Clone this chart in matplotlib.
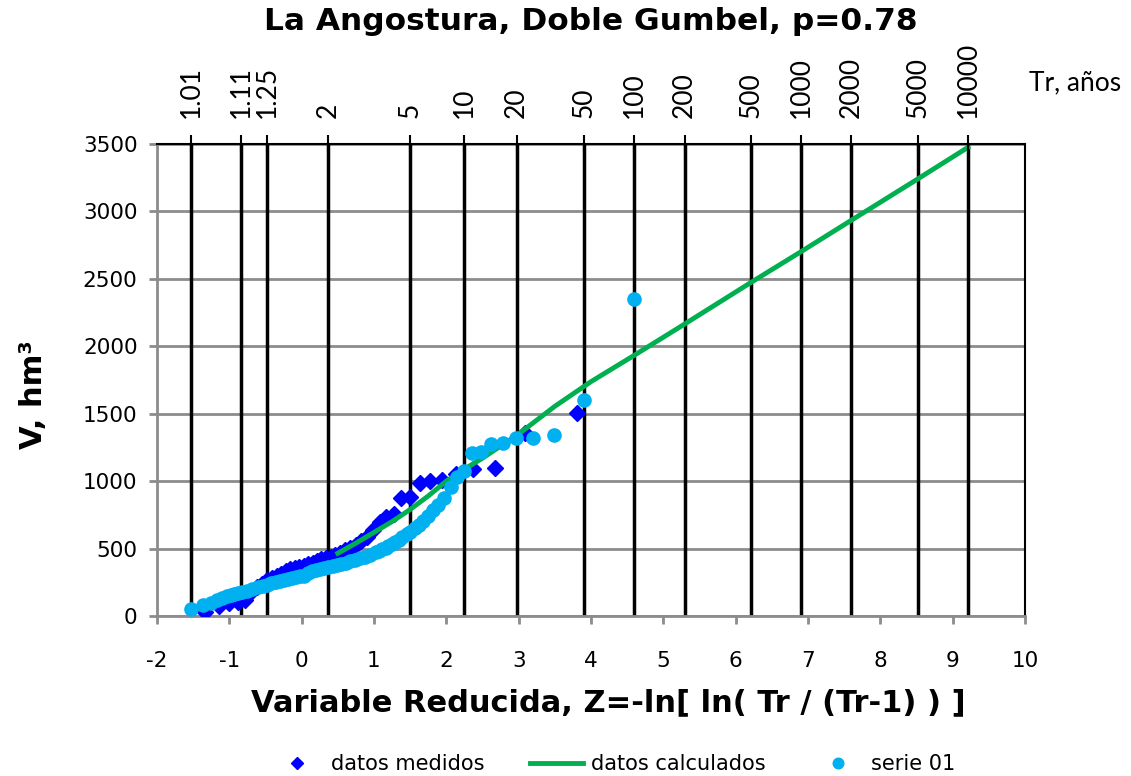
import numpy as np
import matplotlib
matplotlib.use("Agg")
import matplotlib.pyplot as plt

plt.rcParams["font.family"] = "DejaVu Sans"
plt.rcParams["axes.unicode_minus"] = False

# datos medidos (Z, V)
z_med = [3.80, 3.09, 2.67, 2.37, 2.14, 1.94, 1.78, 1.63, 1.50, 1.38, 1.27, 1.17,
         1.08, 0.99, 0.90, 0.82, 0.75, 0.67, 0.60, 0.53, 0.46, 0.40, 0.34, 0.27,
         0.21, 0.15, 0.09, 0.03, -0.03, -0.09, -0.16, -0.22, -0.28, -0.34, -0.41,
         -0.48, -0.55, -0.62, -0.70, -0.79, -0.88, -1.00, -1.14, -1.34]
v_med = [1505, 1357, 1097, 1090, 1050, 1008, 1000, 986, 882, 875, 756, 734,
         697, 635, 585, 555, 530, 505, 490, 470, 452, 440, 430, 420,
         405, 395, 385, 368, 360, 355, 345, 330, 315, 300, 285,
         265, 240, 215, 175, 120, 105, 95, 75, 30]

# datos calculados (curva Doble Gumbel)
z_calc = [0.50, 0.75, 1.0, 1.25, 1.5, 1.75, 2.0, 2.25, 2.5, 3.0, 3.5, 4.0,
          4.60, 5.30, 6.21, 6.91, 7.60, 8.52, 9.21]
v_calc = [465, 540, 620, 700, 790, 890, 1000, 1090, 1170, 1350, 1555, 1738,
          1934, 2167, 2473, 2704, 2935, 3242, 3475]

# serie 01 (Z, V)
z_s01 = [4.60, 3.90, 3.49, 3.20, 2.97, 2.78, 2.62, 2.48, 2.36, 2.25, 2.15, 2.06,
         1.97, 1.89, 1.82, 1.75, 1.68, 1.62, 1.56, 1.50, 1.45, 1.39, 1.34, 1.29,
         1.25, 1.20, 1.16, 1.11, 1.07, 1.03, 0.95, 0.88, 0.81, 0.74, 0.67, 0.61,
         0.55, 0.49, 0.43, 0.37, 0.31, 0.25, 0.20, 0.14, 0.09, 0.03, -0.02, -0.08,
         -0.13, -0.19, -0.24, -0.30, -0.36, -0.42, -0.48, -0.54, -0.61, -0.68,
         -0.75, -0.83, -0.88, -0.93, -0.98, -1.03, -1.10, -1.17, -1.26, -1.36, -1.53]
v_s01 = [2350, 1605, 1342, 1320, 1320, 1283, 1275, 1216, 1209, 1078, 1030, 956,
         875, 823, 786, 741, 704, 675, 652, 625, 605, 585, 565, 550,
         535, 520, 505, 495, 485, 475, 455, 440, 428, 415, 405, 395,
         385, 378, 370, 362, 355, 348, 340, 330, 318, 300, 295, 290,
         282, 276, 268, 260, 252, 242, 230, 222, 212, 198,
         185, 175, 168, 160, 152, 145, 130, 115, 100, 80, 50]

tr_vals = [1.01, 1.11, 1.25, 2, 5, 10, 20, 50, 100, 200, 500, 1000, 2000, 5000, 10000]
tr_labels = ["1.01", "1.11", "1.25", "2", "5", "10", "20", "50", "100", "200",
             "500", "1000", "2000", "5000", "10000"]

tr = np.array(tr_vals)
z_tr = -np.log(np.log(tr / (tr - 1)))

fig = plt.figure(figsize=(11.31, 7.76), dpi=100)
ax = fig.add_axes([0.1388, 0.2062, 0.9063 - 0.1388, 0.8144 - 0.2062])

ax.set_xlim(-2, 10)
ax.set_ylim(0, 3500)
ax.set_xticks(range(-2, 11))
ax.set_yticks(range(0, 3501, 500))
ax.yaxis.grid(True, color="#8c8c8c", linewidth=2, zorder=0)
ax.set_axisbelow(True)

ax.vlines(z_tr, 0, 3500, color="black", linewidth=2.5, zorder=1)

ax.plot(z_med, v_med, linestyle="none", marker="D", color="#0000ff",
        markersize=8, label="datos medidos", zorder=3)
ax.plot(z_calc, v_calc, color="#00b050", linewidth=3.5, label="datos calculados", zorder=4)
ax.plot(z_s01, v_s01, linestyle="none", marker="o", color="#00b0f0",
        markersize=9.5, label="serie 01", zorder=5)

for s in ["left", "bottom"]:
    ax.spines[s].set_color("#8c8c8c")
    ax.spines[s].set_linewidth(2)
ax.spines["right"].set_color("black")
ax.spines["right"].set_linewidth(1.5)
ax.spines["top"].set_visible(False)
ax.tick_params(axis="both", colors="#8c8c8c", width=2, length=6, direction="out",
               labelsize=15.5, labelcolor="black")
ax.tick_params(axis="x", pad=19)
ax.tick_params(axis="y", pad=8)

ax.set_ylabel("V, hm³", fontsize=22, fontweight="bold")
ax.yaxis.set_label_coords(-0.126, 0.468)
ax.set_xlabel("Variable Reducida, Z=-ln[ ln( Tr / (Tr-1) ) ]", fontsize=22,
              fontweight="bold")
ax.xaxis.set_label_coords(0.52, -0.153)

# eje superior con los periodos de retorno
ax2 = ax.twiny()
ax2.set_xlim(ax.get_xlim())
ax2.set_xticks(z_tr)
ax2.set_xticklabels(tr_labels, rotation=90, fontsize=19, family="Lato")
ax2.tick_params(axis="x", direction="inout", length=13, width=1.5, colors="black", pad=12)
ax2.spines["top"].set_color("black")
ax2.spines["top"].set_linewidth(1.5)
for s in ["left", "bottom", "right"]:
    ax2.spines[s].set_visible(False)
fig.text(0.910, 0.893, "Tr, años", fontsize=19, family="Lato", ha="left", va="center")

fig.text(0.5226, 0.972, "La Angostura, Doble Gumbel, p=0.78", fontsize=22.5,
         fontweight="bold", ha="center", va="center")

fig.legend(loc="lower center", ncol=3, frameon=False, fontsize=15, markerscale=0.8,
           bbox_to_anchor=(0.542, -0.022), columnspacing=2.2, handlelength=2.55,
           handletextpad=0.35)

fig.savefig("out.png", dpi=100)
